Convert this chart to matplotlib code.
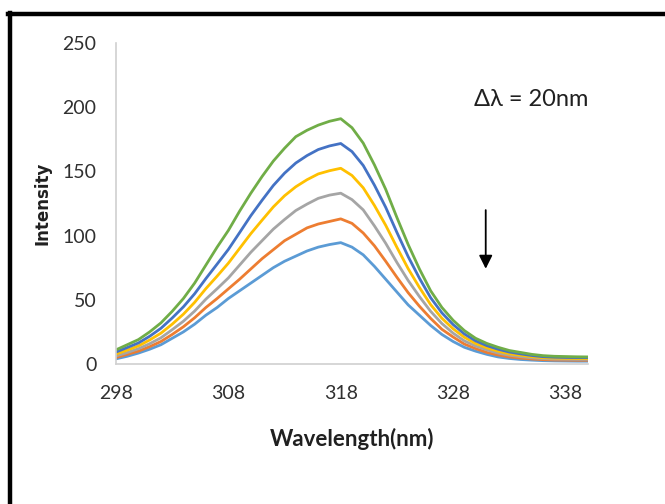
import matplotlib
matplotlib.use("Agg")
import matplotlib.pyplot as plt
from matplotlib.lines import Line2D

wavelength = list(range(298, 341))

s1 = [4, 6, 8.5, 11.5, 15, 20, 25, 31, 38, 44, 51, 57, 63, 69, 75, 80, 84, 88, 91, 93,
      94.5, 91, 85, 76, 66, 56, 46, 38, 30, 23, 17.5, 13, 10, 7.5, 5.5, 4.3, 3.5, 3, 2.6,
      2.4, 2.3, 2.2, 2.2]
s2 = [5, 7.5, 10, 13.5, 17.5, 23, 29, 36, 44, 51, 58.5, 66, 74, 82, 89, 96, 101, 106, 109,
      111, 113, 109.5, 102, 92, 80, 67.5, 55.5, 45, 35.5, 27, 21, 15.5, 12, 9, 7, 5.5, 4.6,
      3.9, 3.4, 3.1, 3.0, 2.9, 2.9]
s3 = [6.2, 8.9, 11.9, 15.8, 20.4, 26.7, 33.3, 41.2, 50.5, 58.6, 67, 77, 87, 96, 105, 112.5,
      119.5, 124.5, 129, 131.5, 133, 128, 120, 107.5, 94, 79, 65, 52.5, 41, 31.5, 24, 18, 14,
      11, 8.5, 6.8, 5.7, 4.8, 4.2, 3.8, 3.7, 3.6, 3.6]
s4 = [7.7, 10.8, 14.1, 18.7, 24, 31, 38.8, 48, 58.7, 68.4, 78.5, 90, 101.5, 112, 122.3, 131,
      138, 143.5, 148, 150.5, 152.4, 146.8, 137.2, 123.4, 108, 90.8, 74.2, 59.6, 46.2, 35.6,
      27.4, 20.8, 16, 12.6, 10, 8, 6.8, 5.7, 4.9, 4.6, 4.4, 4.3, 4.3]
s5 = [9.3, 12.8, 16.4, 21.6, 27.8, 35.8, 44.5, 54.7, 66.5, 77.8, 89.2, 102.3, 115.5, 127.5,
      139, 148.6, 156.5, 162.3, 167, 169.8, 171.7, 165.4, 154.6, 139.2, 122, 102.4, 83.6, 66.8,
      51.6, 39.8, 30.7, 23.4, 18, 14.3, 11.5, 9.3, 7.9, 6.6, 5.7, 5.3, 5.1, 5.0, 5.0]
s6 = [11, 15, 19, 25, 32, 41, 51, 63, 77, 91, 104, 119, 133, 146, 158, 168, 177, 182, 186,
      189, 191, 184, 172, 155, 136, 114, 93, 74, 57, 44, 34, 26, 20, 16, 13, 10.5, 9, 7.5,
      6.5, 6, 5.8, 5.6, 5.5]

series = [s1, s2, s3, s4, s5, s6]
colors = ['#5B9BD5', '#ED7D31', '#A5A5A5', '#FFC000', '#4472C4', '#70AD47']
xticks = [298, 308, 318, 328, 338]
yticks = [0, 50, 100, 150, 200, 250]

plt.rcParams['font.family'] = ['Lato', 'DejaVu Sans']

fig = plt.figure(figsize=(6.65, 5.04), dpi=100)
ax = fig.add_axes([0.1744, 0.2778, 0.7098, 0.637])

for s, c in zip(series, colors):
    ax.plot(wavelength, s, color=c, lw=2.0, solid_joinstyle='round')

ax.set_xlim(298, 340)
ax.set_ylim(0, 250)
ax.set_xticks(xticks)
ax.set_yticks(yticks)
ax.tick_params(axis='both', length=0, labelsize=14, colors='#303030')
ax.tick_params(axis='y', pad=14)
ax.tick_params(axis='x', pad=15)
for sp in ['top', 'right']:
    ax.spines[sp].set_visible(False)
for sp in ['left', 'bottom']:
    ax.spines[sp].set_color('#D0D0D0')
    ax.spines[sp].set_linewidth(1.2)

ax.set_xlabel('Wavelength(nm)', fontsize=16, fontweight='bold', color='#202020', labelpad=19)
ax.set_ylabel('Intensity', fontsize=12, fontweight='bold', color='#202020', labelpad=8,
              family='DejaVu Sans')

ax.text(329.9, 206, 'Δλ = 20nm', fontsize=17, color='#202020', va='center', ha='left')
ax.annotate('', xy=(330.9, 72), xytext=(330.9, 122),
            arrowprops=dict(arrowstyle='-|>', color='black', lw=1.3, mutation_scale=20))

# outer frame (left and top)
fig.add_artist(Line2D([9.5 / 665, 9.5 / 665], [0, 1 - 13 / 504], color='black', lw=3.2,
                      transform=fig.transFigure))
fig.add_artist(Line2D([8 / 665, 1], [1 - 13.5 / 504, 1 - 13.5 / 504], color='black', lw=3.2,
                      transform=fig.transFigure))

fig.savefig('out.png', dpi=100, facecolor='white')
